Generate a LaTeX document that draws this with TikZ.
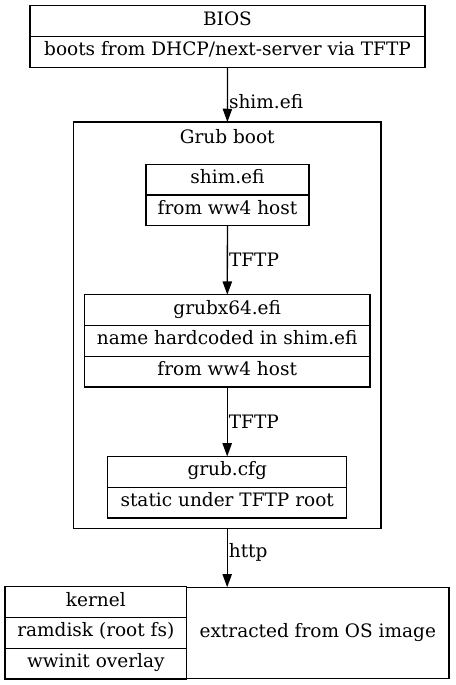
\documentclass[tikz,border=0pt]{standalone}
\usepackage{fontspec}
\setmainfont{DejaVu Serif}
\usetikzlibrary{shapes.multipart,arrows.meta,positioning}
\newcommand{\rowstrut}{\rule[-6.5pt]{0pt}{21pt}}
\tikzset{record/.style={rectangle split,rectangle split parts=#1,draw,line width=1.3pt,
            inner xsep=0pt,inner ysep=4.2pt,outer sep=0pt,font=\fontsize{18.5}{22}\selectfont},
         cell/.style={rectangle,draw,line width=1.3pt,inner sep=0pt,outer sep=0pt,font=\fontsize{18.5}{22}\selectfont},
         cluster/.style={rectangle,draw,line width=1.3pt,inner sep=0pt,outer sep=0pt},
         edge label/.style={rectangle,draw=none,fill=none,inner sep=1pt,font=\fontsize{18.5}{22}\selectfont},
         flow/.style={-{Triangle[length=13.3pt,width=9.3pt]},line width=1.3pt}
}

\begin{document}
\begin{tikzpicture}[x=1pt,y=1pt]
\useasboundingbox (0,0) rectangle (455,-685);

\node [record=2, minimum width=395pt] (bios) at (227.5,-36.5)
    {\rowstrut BIOS \nodepart{two} \rowstrut boots from DHCP/next-server via TFTP};

% grub cluster
\node [cluster, minimum width=307.7pt, minimum height=406.3pt] (grub) at (227.2,-325.2) {};
\node [edge label] (grublabel) at (227.2,-136.3) {Grub boot};

\node [record=2, minimum width=163pt] (shim) at (227.5,-195)
    {\rowstrut shim.efi \nodepart{two} \rowstrut from ww4 host};
\node [record=3, minimum width=285.7pt] (grubx) at (227.2,-340.8)
    {\rowstrut grubx64.efi \nodepart{two} \rowstrut name hardcoded in shim.efi
     \nodepart{three} \rowstrut from ww4 host};
\node [record=2, minimum width=239pt] (grubcfg) at (227.2,-487.2)
    {\rowstrut grub.cfg \nodepart{two} \rowstrut static under TFTP root};

% kernel, ramdisk, overlay
\node [record=3, minimum width=181.7pt] (files) at (95.8,-632.8)
    {\rowstrut kernel \nodepart{two} \rowstrut ramdisk (root fs)
     \nodepart{three} \rowstrut wwinit overlay};
\node [cell, minimum width=262.3pt, minimum height=91pt, right=0pt of files] (extract)
    {extracted from OS image};

\draw [flow] (bios) -- (grub) node [edge label, pos=0.63, right] {shim.efi};
\draw [flow] (shim) -- (grubx) node [edge label, midway, right] {TFTP};
\draw [flow] (grubx) -- (grubcfg) node [edge label, midway, right] {TFTP};
\draw [flow] (grub.south) -- (grub.south |- extract.north) node [edge label, pos=0.4, right] {http};
\end{tikzpicture}
\end{document}
